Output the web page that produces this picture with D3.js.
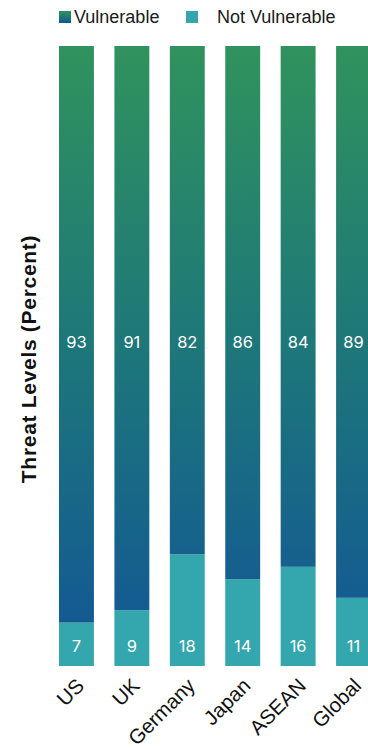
<!DOCTYPE html>
<html>
<head>
<meta charset="utf-8">
<script src="https://cdn.jsdelivr.net/npm/d3@7"></script>
<style>
  html, body { margin: 0; padding: 0; background: #fff; }
  svg { display: block; }
</style>
</head>
<body>
<svg id="chart" width="368" height="749"></svg>
<script>
// Share of respondents by region
const categories = ["US", "UK", "Germany", "Japan", "ASEAN", "Global"];
const vulnerable = [93, 91, 82, 86, 84, 89];
const notVulnerable = [7, 9, 18, 14, 16, 11];
const seriesNames = ["Vulnerable", "Not Vulnerable"];

const svg = d3.select("#chart");
const plotTop = 46, plotBottom = 666;

const x = d3.scaleBand()
  .domain(categories)
  .range([59, 371])
  .paddingInner(0.37)
  .paddingOuter(0);

const y = d3.scaleLinear().domain([0, 100]).range([plotBottom, plotTop]);

const rows = categories.map((c, i) => ({ cat: c, v: vulnerable[i], n: notVulnerable[i] }));

// vertical gradient for the vulnerable share, green at top to blue at bottom
const defs = svg.append("defs");
const gradStops = [
  ["0%", "#30925d"],
  ["50%", "#1d767a"],
  ["90%", "#145c91"],
  ["100%", "#125890"]
];
const grad = defs.append("linearGradient")
  .attr("id", "vulnGrad")
  .attr("gradientUnits", "userSpaceOnUse")
  .attr("x1", 0).attr("x2", 0)
  .attr("y1", y(100)).attr("y2", y(0));
gradStops.forEach(s => grad.append("stop").attr("offset", s[0]).attr("stop-color", s[1]));

const legGrad = defs.append("linearGradient")
  .attr("id", "legGrad")
  .attr("x1", 0).attr("x2", 0).attr("y1", 0).attr("y2", 1);
legGrad.append("stop").attr("offset", "0%").attr("stop-color", "#30925d");
legGrad.append("stop").attr("offset", "100%").attr("stop-color", "#125890");

const notColor = "#34a6ad";

// bars
const g = svg.append("g");
g.selectAll("rect.not")
  .data(rows).join("rect")
  .attr("class", "not")
  .attr("x", d => x(d.cat))
  .attr("width", x.bandwidth())
  .attr("y", d => y(d.n))
  .attr("height", d => y(0) - y(d.n))
  .attr("fill", notColor);

g.selectAll("rect.vuln")
  .data(rows).join("rect")
  .attr("class", "vuln")
  .attr("x", d => x(d.cat))
  .attr("width", x.bandwidth())
  .attr("y", d => y(d.n + d.v))
  .attr("height", d => y(d.n) - y(d.n + d.v))
  .attr("fill", "url(#vulnGrad)");

// value labels
const numFont = "Inter, 'DejaVu Sans', sans-serif";
g.selectAll("text.vlab")
  .data(rows).join("text")
  .attr("class", "vlab")
  .attr("x", d => x(d.cat) + x.bandwidth() / 2)
  .attr("y", y(52.2))
  .attr("dy", "0.35em")
  .attr("text-anchor", "middle")
  .attr("fill", "#ffffff")
  .style("font-family", numFont)
  .style("font-size", "16.5px")
  .text(d => d.v);

g.selectAll("text.nlab")
  .data(rows).join("text")
  .attr("class", "nlab")
  .attr("x", d => x(d.cat) + x.bandwidth() / 2)
  .attr("y", y(3.2))
  .attr("dy", "0.35em")
  .attr("text-anchor", "middle")
  .attr("fill", "#ffffff")
  .style("font-family", numFont)
  .style("font-size", "16.5px")
  .text(d => d.n);

// category axis, rotated labels
const xAxis = svg.append("g")
  .attr("transform", `translate(0,${plotBottom})`)
  .call(d3.axisBottom(x).tickSize(0).tickPadding(0));
xAxis.select(".domain").remove();
xAxis.selectAll("text")
  .attr("fill", "#111")
  .style("font-family", "'Liberation Sans', Arial, sans-serif")
  .style("font-size", "20.5px")
  .attr("text-anchor", "end")
  .attr("dy", null)
  .attr("y", 0)
  .attr("transform", "translate(9,21) rotate(-45)");

// y axis title
svg.append("text")
  .attr("transform", `translate(36,${(plotTop + plotBottom) / 2 + 3}) rotate(-90)`)
  .attr("text-anchor", "middle")
  .attr("fill", "#111")
  .style("font-family", "'Liberation Sans', Arial, sans-serif")
  .style("font-weight", "bold")
  .style("font-size", "21px")
  .style("letter-spacing", "0.7px")
  .text("Threat Levels (Percent)");

// legend
const legend = svg.append("g").style("font-family", "'Liberation Sans', Arial, sans-serif");
const legX = [59, 186];
const legTextX = [74, 217];
const legFill = ["url(#legGrad)", notColor];
seriesNames.forEach((name, i) => {
  legend.append("rect")
    .attr("x", legX[i]).attr("y", 11)
    .attr("width", 12).attr("height", 12)
    .attr("fill", legFill[i]);
  legend.append("text")
    .attr("x", legTextX[i]).attr("y", 23)
    .attr("fill", "#1a1a1a")
    .style("font-size", "18px")
    .text(name);
});
</script>
</body>
</html>
